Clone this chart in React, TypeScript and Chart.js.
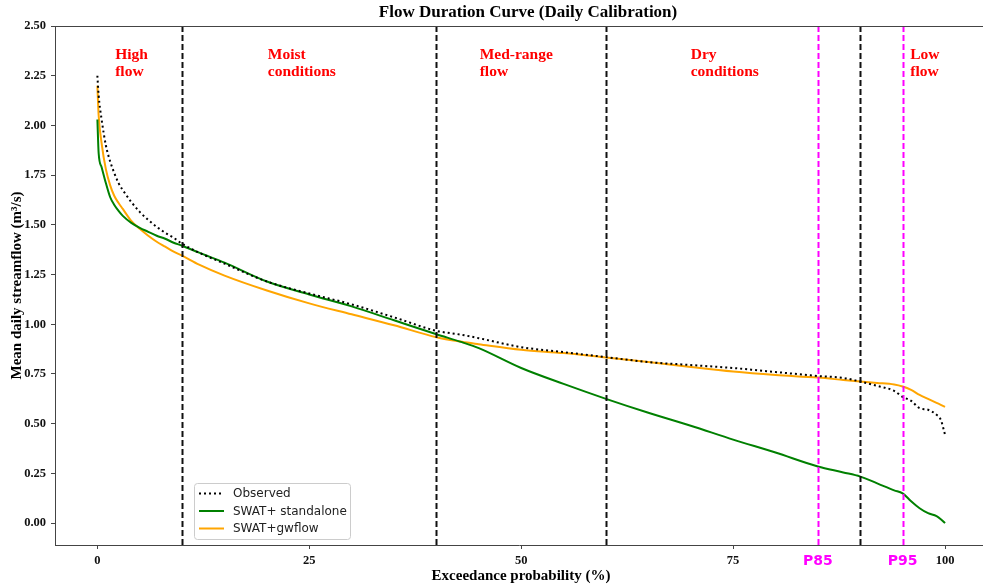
import React, { useEffect, useRef } from "react";
import { Chart, registerables } from "chart.js";

Chart.register(...registerables);

const exceedance = [0, 0.15, 0.5, 1, 1.5, 2, 2.5, 3, 4, 5, 6, 7, 8, 9, 10, 12, 15, 20, 25, 30, 35, 40, 43, 45, 50, 55, 60, 65, 70, 75, 80, 85, 88, 90, 92, 94, 95, 96, 97, 98, 99, 99.5, 100];
const observed = [2.25, 2.15, 2.03, 1.9, 1.82, 1.76, 1.71, 1.675, 1.615, 1.565, 1.525, 1.49, 1.46, 1.435, 1.405, 1.36, 1.305, 1.215, 1.155, 1.1, 1.035, 0.967, 0.947, 0.93, 0.885, 0.86, 0.835, 0.81, 0.795, 0.78, 0.76, 0.74, 0.73, 0.712, 0.69, 0.665, 0.635, 0.615, 0.578, 0.57, 0.545, 0.52, 0.445];
const standalone = [2.03, 1.86, 1.79, 1.71, 1.64, 1.6, 1.57, 1.545, 1.51, 1.485, 1.465, 1.445, 1.43, 1.41, 1.395, 1.36, 1.31, 1.215, 1.15, 1.09, 1.02, 0.95, 0.91, 0.88, 0.78, 0.7, 0.625, 0.555, 0.49, 0.42, 0.355, 0.285, 0.255, 0.234, 0.2, 0.165, 0.15, 0.11, 0.075, 0.05, 0.035, 0.02, 0.0];
const gwflow = [2.2, 2.05, 1.91, 1.78, 1.7, 1.645, 1.61, 1.58, 1.52, 1.48, 1.445, 1.415, 1.39, 1.365, 1.345, 1.3, 1.245, 1.17, 1.105, 1.05, 0.995, 0.935, 0.912, 0.9, 0.872, 0.855, 0.833, 0.81, 0.785, 0.762, 0.745, 0.732, 0.72, 0.712, 0.705, 0.697, 0.687, 0.67, 0.645, 0.625, 0.605, 0.595, 0.585];

const seriesNames = ["Observed", "SWAT+ standalone", "SWAT+gwflow"];
const xTicks = [0, 25, 50, 75, 100];
const yTicks = [0, 0.25, 0.5, 0.75, 1.0, 1.25, 1.5, 1.75, 2.0, 2.25, 2.5];
const regionBounds = [10, 40, 60, 90];
const percentileLines = [85, 95];
const percentileLabels = ["P85", "P95"];
const regionLabels = [["High", "flow"], ["Moist", "conditions"], ["Med-range", "flow"], ["Dry", "conditions"], ["Low", "flow"]];
const regionLabelX = [2.1, 20.1, 45.1, 70.0, 95.9];

const SERIF = "'Liberation Serif', 'Times New Roman', serif";
const SANS = "'DejaVu Sans', sans-serif";

export default function App() {
  const ref = useRef<HTMLCanvasElement | null>(null);
  useEffect(() => {
    document.body.style.margin = "0";
    const canvas = ref.current;
    if (!canvas) return;

    const overlay = {
      id: "overlay",
      afterDatasetsDraw(chart: any) {
        const ctx = chart.ctx;
        const { top, bottom, left, right } = chart.chartArea;
        const xs = chart.scales.x;
        ctx.save();
        ctx.beginPath();
        ctx.rect(left, top, right - left, bottom - top);
        ctx.clip();
        ctx.lineWidth = 2;
        ctx.setLineDash([6, 3]);
        for (const v of regionBounds) {
          const px = Math.round(xs.getPixelForValue(v)) + 0.5;
          ctx.strokeStyle = "#111";
          ctx.beginPath();
          ctx.moveTo(px, top);
          ctx.lineTo(px, bottom);
          ctx.stroke();
        }
        for (const v of percentileLines) {
          const px = Math.round(xs.getPixelForValue(v)) + 0.5;
          ctx.strokeStyle = "#ff00ff";
          ctx.beginPath();
          ctx.moveTo(px, top);
          ctx.lineTo(px, bottom);
          ctx.stroke();
        }
        ctx.restore();
      },
      afterDraw(chart: any) {
        const ctx = chart.ctx;
        const { top, bottom, left, right } = chart.chartArea;
        const xs = chart.scales.x;
        ctx.save();
        ctx.strokeStyle = "#444";
        ctx.lineWidth = 1;
        ctx.beginPath();
        ctx.moveTo(left, top + 0.5);
        ctx.lineTo(right, top + 0.5);
        ctx.stroke();

        ctx.fillStyle = "#000";
        ctx.font = `bold 17px ${SERIF}`;
        ctx.textAlign = "center";
        ctx.textBaseline = "middle";
        ctx.fillText("Flow Duration Curve (Daily Calibration)", 528, 13);

        ctx.font = `bold 15px ${SERIF}`;
        ctx.fillText("Exceedance probability (%)", 521, 576);
        ctx.save();
        ctx.translate(17, (top + bottom) / 2);
        ctx.rotate(-Math.PI / 2);
        ctx.fillText("Mean daily streamflow (m³/s)", 0, 0);
        ctx.restore();

        ctx.fillStyle = "#ff0000";
        ctx.font = `bold 15.5px ${SERIF}`;
        ctx.textAlign = "left";
        regionLabels.forEach((lines, i) => {
          const px = xs.getPixelForValue(regionLabelX[i]);
          lines.forEach((t, j) => ctx.fillText(t, px, top + 29 + j * 17));
        });

        ctx.fillStyle = "#ff00ff";
        ctx.font = `bold 14px ${SANS}`;
        ctx.textAlign = "center";
        percentileLines.forEach((v, i) => {
          ctx.fillText(percentileLabels[i], xs.getPixelForValue(v), 561);
        });

        const bx = 194.5, by = 483.5, bw = 156, bh = 56;
        ctx.fillStyle = "rgba(255,255,255,0.85)";
        ctx.strokeStyle = "#cccccc";
        ctx.lineWidth = 1;
        ctx.beginPath();
        ctx.roundRect(bx, by, bw, bh, 3);
        ctx.fill();
        ctx.stroke();
        const colors = ["#000000", "#008000", "#ffa500"];
        const rows = [493.5, 511, 528.5];
        ctx.font = `12px ${SANS}`;
        ctx.textAlign = "left";
        rows.forEach((ry, i) => {
          ctx.strokeStyle = colors[i];
          ctx.lineWidth = 2;
          ctx.setLineDash(i === 0 ? [2, 3] : []);
          ctx.beginPath();
          ctx.moveTo(199, ry);
          ctx.lineTo(224, ry);
          ctx.stroke();
          ctx.setLineDash([]);
          ctx.fillStyle = "#222";
          ctx.fillText(seriesNames[i], 233, ry + 0.5);
        });
        ctx.restore();
      },
    };

    const mk = (vals: number[]) => exceedance.map((x, i) => ({ x, y: vals[i] }));

    const chart = new Chart(canvas, {
      type: "line",
      data: {
        datasets: [
          {
            label: seriesNames[0],
            data: mk(observed),
            borderColor: "#000000",
            borderWidth: 2,
            borderDash: [2, 3],
            pointRadius: 0,
            cubicInterpolationMode: "monotone",
          },
          {
            label: seriesNames[1],
            data: mk(standalone),
            borderColor: "#008000",
            borderWidth: 2,
            pointRadius: 0,
            cubicInterpolationMode: "monotone",
          },
          {
            label: seriesNames[2],
            data: mk(gwflow),
            borderColor: "#ffa500",
            borderWidth: 2,
            pointRadius: 0,
            cubicInterpolationMode: "monotone",
          },
        ],
      },
      options: {
        animation: false,
        responsive: true,
        maintainAspectRatio: false,
        layout: { padding: { top: 26, left: 0, right: 0, bottom: 0 } },
        plugins: { legend: { display: false }, title: { display: false }, tooltip: { enabled: false } },
        scales: {
          x: {
            type: "linear",
            min: -5,
            max: 104.48,
            afterBuildTicks: (s: any) => {
              s.ticks = xTicks.map((v) => ({ value: v }));
            },
            afterFit: (s: any) => {
              s.height = 41;
            },
            ticks: {
              callback: (v: any) => String(v),
              font: { family: SERIF, size: 12.5, weight: "bold" },
              color: "#111",
              padding: 4,
              maxRotation: 0,
            },
            grid: { drawOnChartArea: false, drawTicks: true, tickLength: 4, color: "#444" },
            border: { display: true, color: "#444", width: 1 },
          },
          y: {
            type: "linear",
            min: -0.11,
            max: 2.5,
            afterBuildTicks: (s: any) => {
              s.ticks = yTicks.map((v) => ({ value: v }));
            },
            afterFit: (s: any) => {
              s.width = 55;
            },
            ticks: {
              callback: (v: any) => Number(v).toFixed(2),
              font: { family: SERIF, size: 12.5, weight: "bold" },
              color: "#111",
              padding: 5,
            },
            grid: { drawOnChartArea: false, drawTicks: true, tickLength: 4, color: "#444" },
            border: { display: true, color: "#444", width: 1 },
          },
        },
      },
      plugins: [overlay],
    });
    return () => chart.destroy();
  }, []);

  return (
    <div style={{ width: 983, height: 586, position: "relative" }}>
      <canvas ref={ref} />
    </div>
  );
}
